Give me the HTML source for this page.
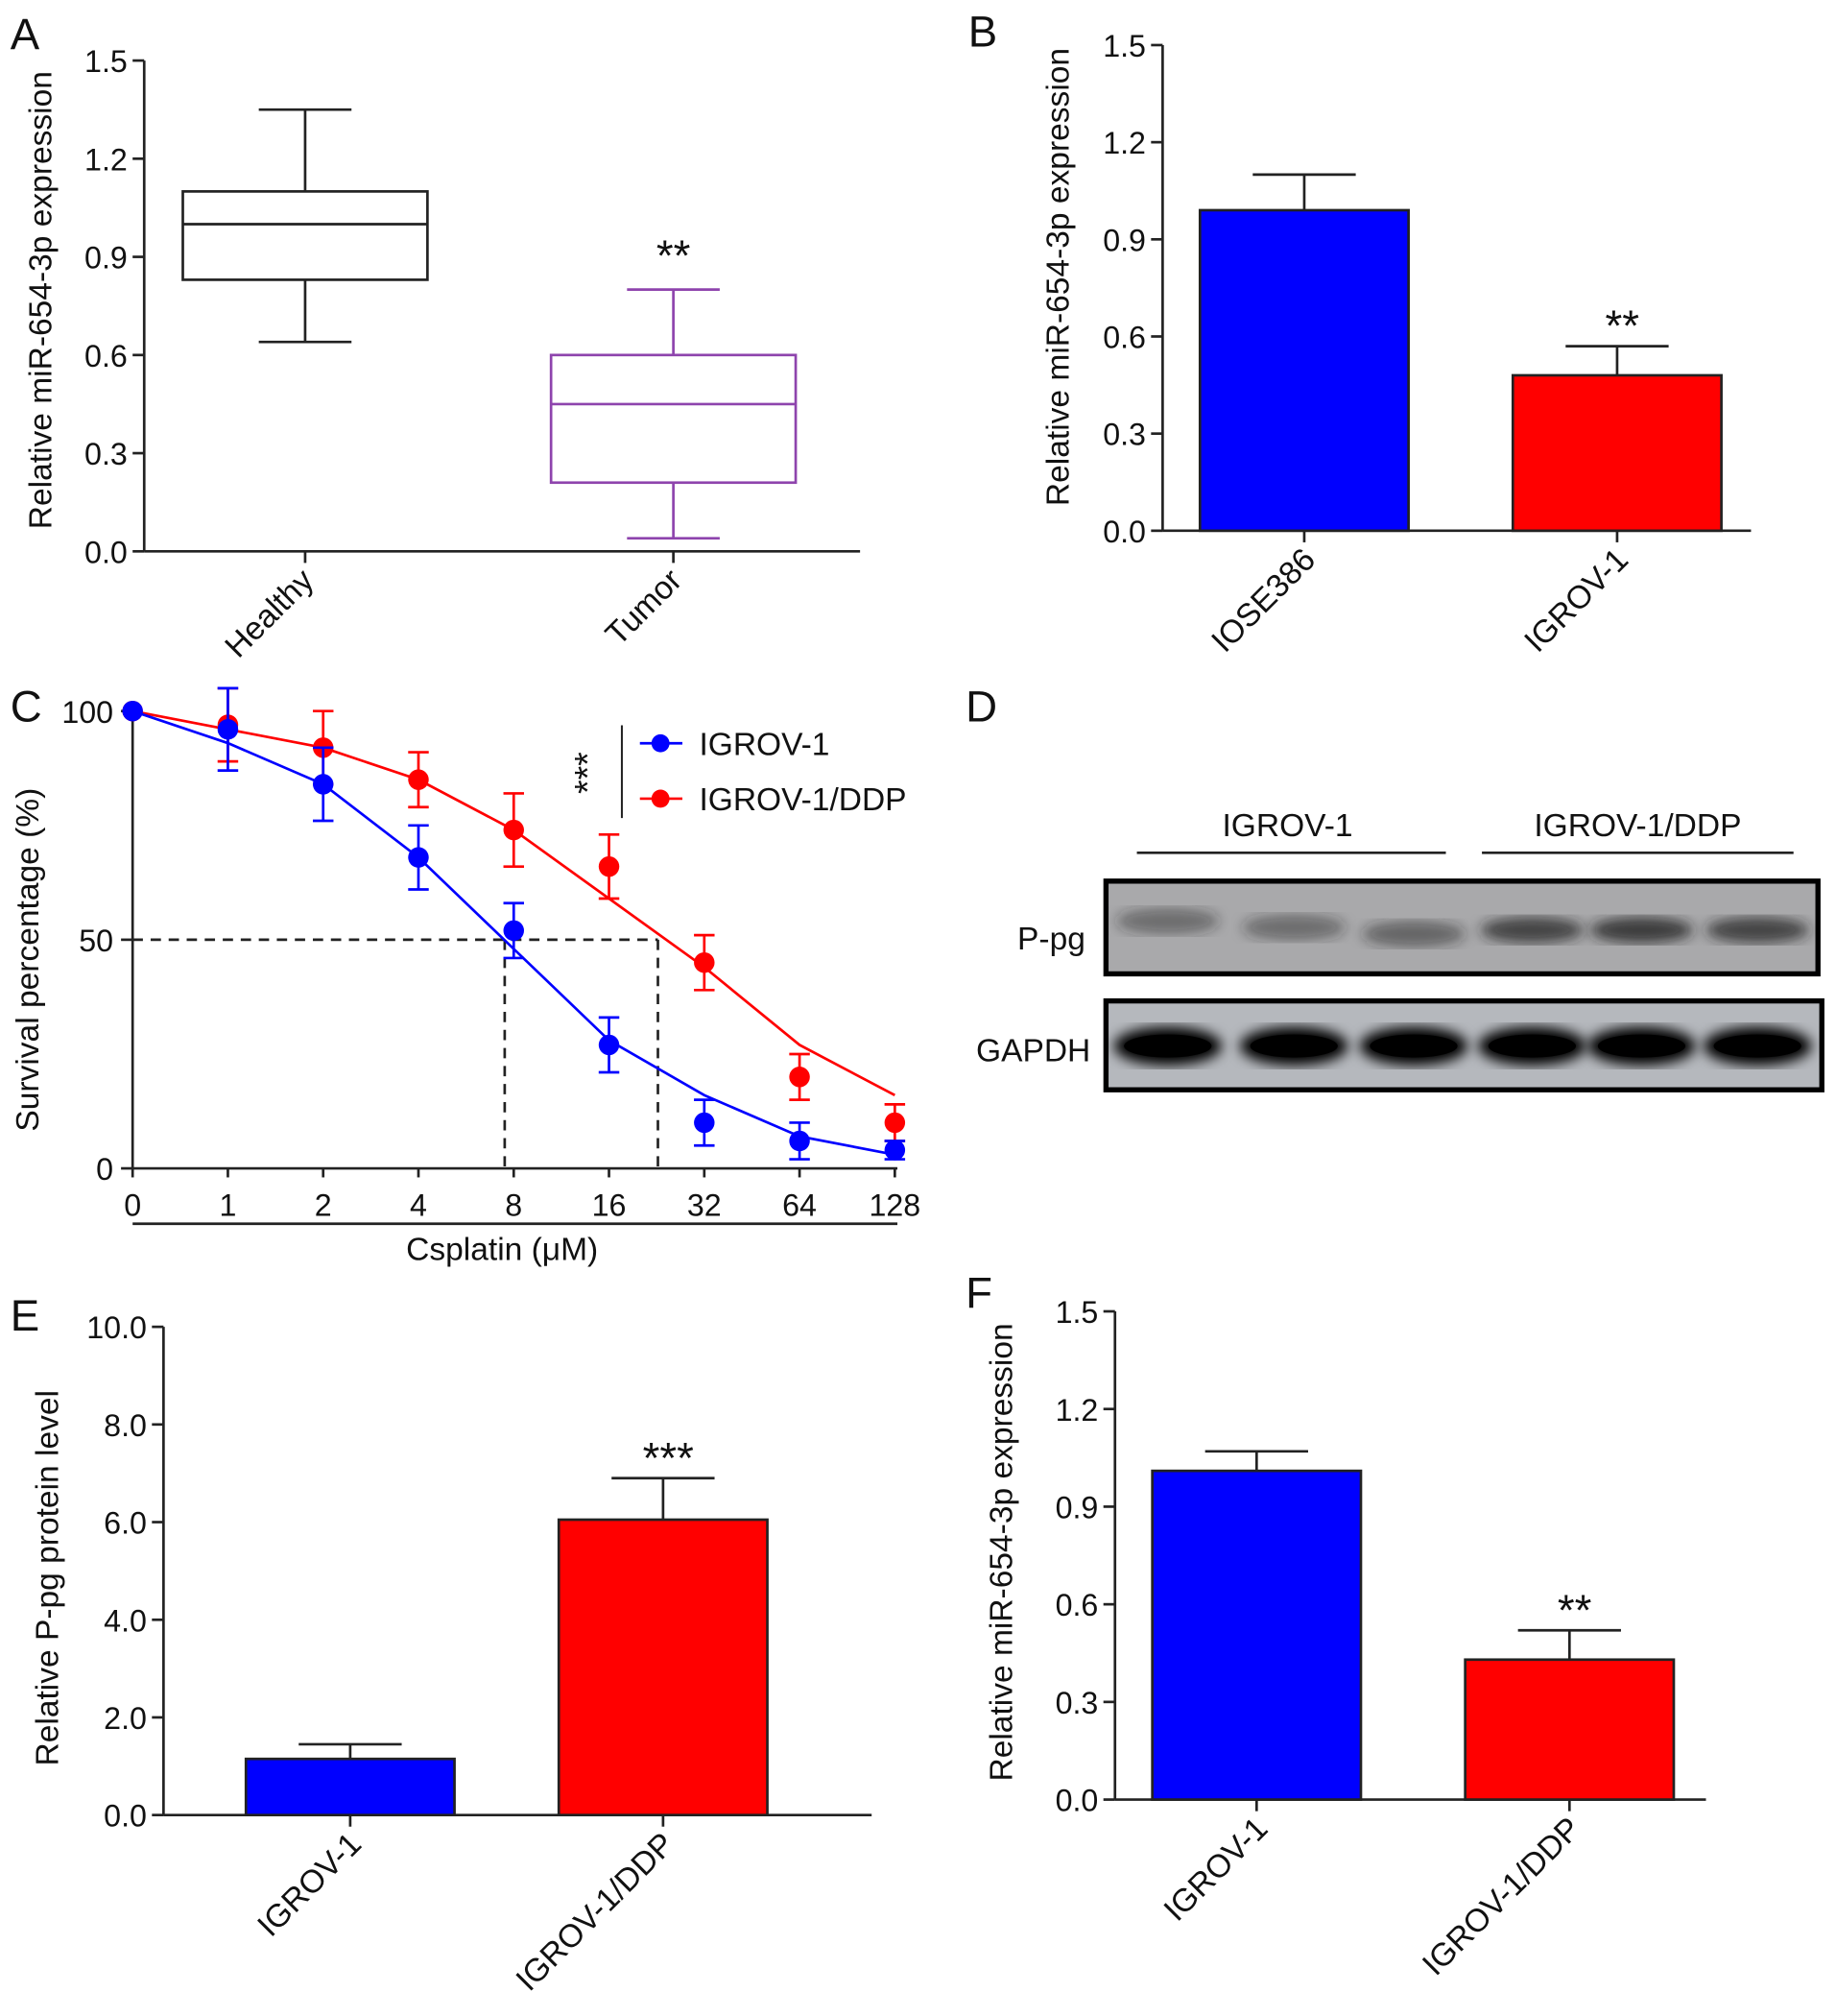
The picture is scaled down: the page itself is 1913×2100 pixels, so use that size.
<!DOCTYPE html>
<html><head><meta charset="utf-8"><style>
html,body{margin:0;padding:0;background:#fff}
svg{display:block}
text{font-family:"Liberation Sans",Arial,sans-serif;fill:#111}
</style></head><body>
<svg id="fig" width="1913" height="2100" viewBox="0 0 1426 1565" preserveAspectRatio="none" xmlns="http://www.w3.org/2000/svg">
<defs>
<filter id="blur"><feGaussianBlur stdDeviation="5"/></filter>
</defs>
</svg>
<script>
// ---- data ----
const boxCats=["Healthy","Tumor"];
const boxHealthy=[0.64,0.83,1.0,1.1,1.35];
const boxTumor=[0.04,0.21,0.45,0.6,0.8];
const bCats=["IOSE386","IGROV-1"];
const bVals=[0.99,0.48];
const bErr=[0.11,0.09];
const cDoses=["0","1","2","4","8","16","32","64","128"];
const cBlue=[100,96,84,68,52,27,10,6,4];
const cBlueErr=[0,9,8,7,6,6,5,4,2];
const cBlueFit=[100,93,84,68,48,28,16,7,3];
const cRed=[100,97,92,85,74,66,45,20,10];
const cRedErr=[0,8,8,6,8,7,6,5,4];
const cRedFit=[100,96,92,85,74,59,44,27,16];
const eCats=["IGROV-1","IGROV-1/DDP"];
const eVals=[1.15,6.05];
const eErr=[0.3,0.85];
const fCats=["IGROV-1","IGROV-1/DDP"];
const fVals=[1.01,0.43];
const fErr=[0.06,0.09];
const pTicks03=["0.0","0.3","0.6","0.9","1.2","1.5"];
const eTicks=["0.0","2.0","4.0","6.0","8.0","10.0"];

const svg=document.getElementById('fig');
const NS='http://www.w3.org/2000/svg';
function el(tag,attrs,name,parent){const e=document.createElementNS(NS,tag);for(const k in attrs)e.setAttribute(k,attrs[k]);


(parent||svg).appendChild(e);return e;}
function txt(x,y,s,size,name,extra){const t=el('text',Object.assign({x:x,y:y,'font-size':size},extra||{}),name);t.textContent=s;return t;}
function line(x1,y1,x2,y2,name,st){return el('line',Object.assign({x1,y1,x2,y2,stroke:'#222','stroke-width':2},st||{}),name);}

function axisY(x,y0,y1,vmax,ticks,name){
  line(x,y0,x,y1,name+'-y-axis');
  const sc=v=>y0-(v/vmax)*(y0-y1);
  ticks.forEach(t=>{const y=sc(parseFloat(t));line(x-9,y,x,y,name+'-y-tick');
    txt(x-13,y+9,t,24,name+'-y-tick-label',{'text-anchor':'end'});});
  return sc;
}
function rotLabel(x,y,s,name){txt(x,y,s,25,name,{'text-anchor':'end',transform:`rotate(-45 ${x} ${y})`});}
function yTitle(x,y,s,name){txt(x,y,s,25,name,{'text-anchor':'middle',transform:`rotate(-90 ${x} ${y})`});}

// ---- Panel A ----
txt(8,38,"A",34,'panel-a-label');
{const sc=axisY(112,428,47,1.5,pTicks03,'a');line(112,428,668,428,'a-x-axis');
 yTitle(40,233,"Relative miR-654-3p expression",'a-y-axis-title');
 const xs=[237,523],cols=['#222','#8e44ad'],data=[boxHealthy,boxTumor];
 data.forEach((d,i)=>{const c=xs[i],hw=95,col=cols[i];
  line(c,sc(d[0]),c,sc(d[1]),'box-whisker-low',{stroke:col});
  line(c,sc(d[3]),c,sc(d[4]),'box-whisker-high',{stroke:col});
  line(c-36,sc(d[0]),c+36,sc(d[0]),'box-cap-low',{stroke:col});
  line(c-36,sc(d[4]),c+36,sc(d[4]),'box-cap-high',{stroke:col});
  el('rect',{x:c-hw,y:sc(d[3]),width:2*hw,height:sc(d[1])-sc(d[3]),fill:'none',stroke:col,'stroke-width':2},'box-'+boxCats[i].toLowerCase());
  line(c-hw,sc(d[2]),c+hw,sc(d[2]),'box-median',{stroke:col});
  line(c,428,c,437,'a-x-tick');
  rotLabel(c+8,452,boxCats[i],'a-x-label');});
 txt(523,210,"**",34,'a-significance',{'text-anchor':'middle'});}

// ---- bar panel helper ----
function barPanel(o){
  const sc=axisY(o.x,o.y0,o.y1,o.vmax,o.ticks,o.n);line(o.x,o.y0,o.xe,o.y0,o.n+'-x-axis');
  yTitle(o.tx,o.ty,o.title,o.n+'-y-axis-title');
  const cols=['#0000ff','#ff0000'];
  o.vals.forEach((v,i)=>{const c=o.cx[i],hw=81;
    line(c,sc(v),c,sc(v+o.err[i]),o.n+'-error-bar');
    line(c-40,sc(v+o.err[i]),c+40,sc(v+o.err[i]),o.n+'-error-cap');
    el('rect',{x:c-hw,y:sc(v),width:2*hw,height:o.y0-sc(v),fill:cols[i],stroke:'#222','stroke-width':2},o.n+'-bar-'+i);
    line(c,o.y0,c,o.y0+9,o.n+'-x-tick');
    rotLabel(c+10,o.y0+24,o.cats[i],o.n+'-x-label');});
  txt(o.cx[1]+4,sc(o.vals[1]+o.err[1])-4,o.sig,34,o.n+'-significance',{'text-anchor':'middle'});
}
txt(752,36,"B",34,'panel-b-label');
barPanel({n:'b',x:903,y0:412,y1:35,xe:1360,vmax:1.5,ticks:pTicks03,tx:830,ty:215,title:"Relative miR-654-3p expression",cx:[1013,1256],vals:bVals,err:bErr,cats:bCats,sig:"**"});
txt(8,1033,"E",34,'panel-e-label');
barPanel({n:'e',x:127,y0:1409,y1:1030,xe:677,vmax:10,ticks:eTicks,tx:45,ty:1225,title:"Relative P-pg protein level",cx:[272,515],vals:eVals,err:eErr,cats:eCats,sig:"***"});
txt(750,1015,"F",34,'panel-f-label');
barPanel({n:'f',x:866,y0:1397,y1:1018,xe:1325,vmax:1.5,ticks:pTicks03,tx:786,ty:1205,title:"Relative miR-654-3p expression",cx:[976,1219],vals:fVals,err:fErr,cats:fCats,sig:"**"});

// ---- Panel C ----
txt(8,560,"C",34,'panel-c-label');
{const y0=907,y1=552,sy=v=>y0-v/100*(y0-y1);
 const xs0=103,dx=74,sx=i=>xs0+i*dx;
 line(103,y1-5,103,y0,'c-y-axis');line(103,y0,697,y0,'c-x-axis');line(103,950,697,950,'c-x-bracket');
 [0,50,100].forEach(t=>{line(94,sy(t),103,sy(t),'c-y-tick');txt(88,sy(t)+9,String(t),24,'c-y-tick-label',{'text-anchor':'end'});});
 cDoses.forEach((d,i)=>{line(sx(i),y0,sx(i),y0+7,'c-x-tick');txt(sx(i),y0+37,d,24,'c-x-tick-label',{'text-anchor':'middle'});});
 txt(390,978,"Csplatin (μM)",25,'c-x-axis-title',{'text-anchor':'middle'});
 yTitle(30,745,"Survival percentage (%)",'c-y-axis-title');
 const dash={'stroke-dasharray':'8,6'};
 line(103,sy(50),511,sy(50),'ic50-horizontal',dash);line(392,sy(50),392,y0,'ic50-blue',dash);line(511,sy(50),511,y0,'ic50-red',dash);
 function series(vals,err,fit,col,n){
  el('polyline',{points:fit.map((v,i)=>sx(i)+','+sy(v)).join(' '),fill:'none',stroke:col,'stroke-width':2},n+'-fit-line');
  vals.forEach((v,i)=>{if(err[i]){line(sx(i),sy(v+err[i]),sx(i),sy(v-err[i]),n+'-error',{stroke:col});
    line(sx(i)-8,sy(v+err[i]),sx(i)+8,sy(v+err[i]),n+'-error-cap',{stroke:col});line(sx(i)-8,sy(v-err[i]),sx(i)+8,sy(v-err[i]),n+'-error-cap',{stroke:col});}
   el('circle',{cx:sx(i),cy:sy(v),r:8,fill:col},n+'-point');});
 }
 series(cRed,cRedErr,cRedFit,'#ff0000','red');
 series(cBlue,cBlueErr,cBlueFit,'#0000ff','blue');
 line(483,563,483,635,'legend-bracket',{'stroke-width':1.5});
 txt(466,600,"***",28,'c-significance',{'text-anchor':'middle',transform:'rotate(-90 466 600)'});
 [['IGROV-1','#0000ff',577],['IGROV-1/DDP','#ff0000',620]].forEach(l=>{
  line(497,l[2],530,l[2],'legend-line',{stroke:l[1]});el('circle',{cx:513,cy:l[2],r:7,fill:l[1]},'legend-marker');
  txt(543,l[2]+9,l[0],25,'legend-entry');});
}

// ---- Panel D ----
txt(750,560,"D",34,'panel-d-label');
txt(1000,649,"IGROV-1",25,'d-group-label',{'text-anchor':'middle'});
txt(1272,649,"IGROV-1/DDP",25,'d-group-label',{'text-anchor':'middle'});
line(883,662,1123,662,'d-group-line');line(1151,662,1393,662,'d-group-line');
el('rect',{x:859,y:684,width:553,height:72,fill:'#a9a9ab',stroke:'#000','stroke-width':4},'ppg-blot');
el('rect',{x:859,y:777,width:556,height:69,fill:'#b5b8bd',stroke:'#000','stroke-width':4},'gapdh-blot');
txt(843,737,"P-pg",25,'ppg-label',{'text-anchor':'end'});
txt(847,824,"GAPDH",25,'gapdh-label',{'text-anchor':'end'});
const lanes=[907,1005,1098,1190,1275,1365];
const ppgInt=[0.45,0.45,0.5,0.75,0.8,0.75];
const ppgY=[715,720,725,722,722,722];
lanes.forEach((c,i)=>{
 el('ellipse',{cx:c,cy:ppgY[i],rx:40,ry:10,fill:'#222','fill-opacity':ppgInt[i],filter:'url(#blur)'},'ppg-band');
 el('ellipse',{cx:c,cy:812,rx:42,ry:15,fill:'#000',filter:'url(#blur)'},'gapdh-band');
 el('ellipse',{cx:c,cy:812,rx:34,ry:9,fill:'#000'},'gapdh-band-core');
});
</script>
</body></html>
